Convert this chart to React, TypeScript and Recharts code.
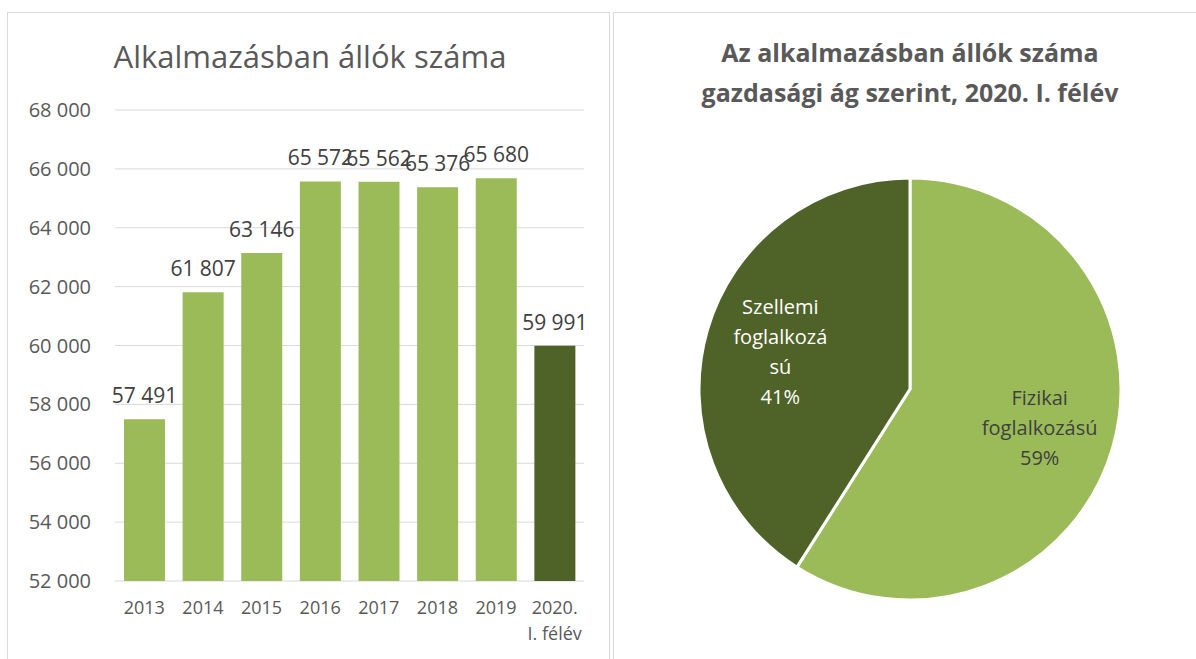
import { BarChart, Bar, XAxis, YAxis, CartesianGrid, LabelList, Cell, PieChart, Pie } from "recharts";

const years = ["2013", "2014", "2015", "2016", "2017", "2018", "2019", "2020.\nI. félév"];
const employees = [57491, 61807, 63146, 65572, 65562, 65376, 65680, 59991];
const yTicks = [52000, 54000, 56000, 58000, 60000, 62000, 64000, 66000, 68000];

const pieNames = ["Fizikai foglalkozású", "Szellemi foglalkozású"];
const pieShares = [59, 41];
const pieLabelLines = [["Fizikai", "foglalkozású"], ["Szellemi", "foglalkozá", "sú"]];

const barData = years.map((year, i) => ({ year, value: employees[i] }));
const pieData = pieNames.map((name, i) => ({ name, value: pieShares[i] }));

const LIGHT = "#9BBB59";
const DARK = "#4F6228";
const FONT = "'Open Sans', sans-serif";
const RAD = Math.PI / 180;

const fmt = (v: number) => String(v).replace(/\B(?=(\d{3})+(?!\d))/g, " ");

const YearTick = ({ x, y, payload }: any) => {
    const lines = String(payload.value).split("\n");
    return (
        <text x={x} y={y} textAnchor="middle" fill="#595959" fontSize={18} fontFamily={FONT}>
            {lines.map((l, i) => (
                <tspan key={i} x={x} dy={i === 0 ? 19 : 26}>{l}</tspan>
            ))}
        </text>
    );
};

// value above each bar, no wrapping (the labels overlap in the original too)
const BarValue = ({ x, y, width, value }: any) => (
    <text x={x + width / 2} y={y - 16} textAnchor="middle" fill="#404040" fontSize={21} fontFamily={FONT}>
        {fmt(value)}
    </text>
);

const PieLabel = ({ cx, cy, midAngle, outerRadius, percent, index }: any) => {
    const r = outerRadius * 0.64;
    const x = cx + r * Math.cos(-midAngle * RAD);
    const y = cy + r * Math.sin(-midAngle * RAD);
    const lines = [...pieLabelLines[index], `${Math.round(percent * 100)}%`];
    const lh = 30;
    const top = y - ((lines.length - 1) * lh) / 2;
    return (
        <text x={x} y={top} textAnchor="middle" dominantBaseline="central"
            fill={index === 0 ? "#404040" : "#ffffff"} fontSize={20} fontFamily={FONT}>
            {lines.map((l, i) => (
                <tspan key={i} x={x} y={top + i * lh}>{l}</tspan>
            ))}
        </text>
    );
};

export default function App() {
    return (
        <div style={{ position: "absolute", left: 0, top: 0, width: 1196, height: 659, overflow: "hidden", background: "#fff", fontFamily: FONT }}>
            <div style={{ position: "absolute", left: 7, top: 12, width: 601, height: 700, border: "1px solid #D9D9D9" }} />
            <div style={{ position: "absolute", left: 613, top: 12, width: 600, height: 700, border: "1px solid #D9D9D9" }} />

            <div style={{ position: "absolute", left: 0, top: 34, width: 620, textAlign: "center", fontSize: 31, color: "#595959", lineHeight: "44px" }}>
                Alkalmazásban állók száma
            </div>
            <div style={{ position: "absolute", left: 614, top: 32, width: 592, textAlign: "center", fontSize: 25, fontWeight: 700, color: "#595959", lineHeight: "40px" }}>
                Az alkalmazásban állók száma<br />gazdasági ág szerint, 2020. I. félév
            </div>

            <div style={{ position: "absolute", left: 0, top: 0 }}>
                <BarChart width={610} height={659} data={barData} margin={{ top: 110, right: 26, bottom: 0, left: 0 }}>
                    <CartesianGrid vertical={false} stroke="#D9D9D9" />
                    <XAxis dataKey="year" axisLine={false} tickLine={false} height={78} interval={0} tick={<YearTick />} tickMargin={8} />
                    <YAxis domain={[52000, 68000]} ticks={yTicks} width={115} axisLine={false} tickLine={false}
                        tickMargin={18} tickFormatter={fmt} tick={{ fill: "#595959", fontSize: 20, fontFamily: FONT }} />
                    <Bar dataKey="value" barSize={41} isAnimationActive={false}>
                        {barData.map((_, i) => (
                            <Cell key={i} fill={i === barData.length - 1 ? DARK : LIGHT} />
                        ))}
                        <LabelList dataKey="value" content={<BarValue />} />
                    </Bar>
                </BarChart>
            </div>

            <div style={{ position: "absolute", left: 614, top: 0 }}>
                <PieChart width={592} height={659} margin={{ top: 0, right: 0, bottom: 0, left: 0 }}>
                    <Pie data={pieData} dataKey="value" nameKey="name" cx={296} cy={389} outerRadius={211}
                        startAngle={90} endAngle={-270} stroke="#ffffff" strokeWidth={3}
                        labelLine={false} label={PieLabel} isAnimationActive={false}>
                        <Cell fill={LIGHT} />
                        <Cell fill={DARK} />
                    </Pie>
                </PieChart>
            </div>
        </div>
    );
}
